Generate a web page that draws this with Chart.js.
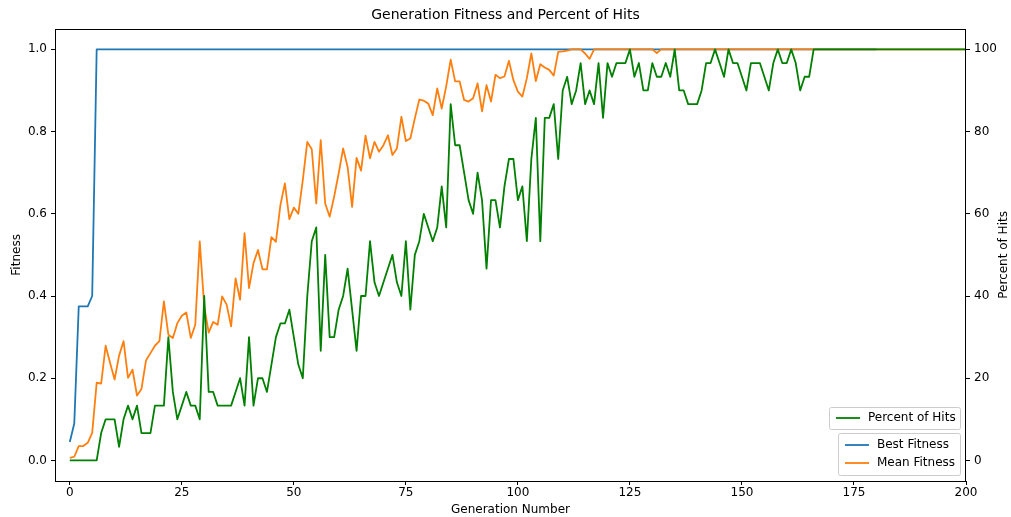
<!DOCTYPE html>
<html>
<head>
<meta charset="utf-8">
<script src="https://cdn.jsdelivr.net/npm/chart.js@4.4.1/dist/chart.umd.min.js"></script>
<style>
  html, body { margin: 0; padding: 0; background: #ffffff; }
  #wrap { width: 1011px; height: 517px; position: relative; }
</style>
</head>
<body>
<div id="wrap"><canvas id="c" width="1011" height="517"></canvas></div>
<script>
// Generation numbers (x values)
const generations = [
  0,1,2,3,4,5,6,7,8,9,10,11,12,13,14,15,16,17,18,19,
  20,21,22,23,24,25,26,27,28,29,30,31,32,33,34,35,36,37,38,39,
  40,41,42,43,44,45,46,47,48,49,50,51,52,53,54,55,56,57,58,59,
  60,61,62,63,64,65,66,67,68,69,70,71,72,73,74,75,76,77,78,79,
  80,81,82,83,84,85,86,87,88,89,90,91,92,93,94,95,96,97,98,99,
  100,101,102,103,104,105,106,107,108,109,110,111,112,113,114,115,116,117,118,119,
  120,121,122,123,124,125,126,127,128,129,130,131,132,133,134,135,136,137,138,139,
  140,141,142,143,144,145,146,147,148,149,150,151,152,153,154,155,156,157,158,159,
  160,161,162,163,164,165,166,167,168,169,170,171,172,173,174,175,176,177,178,179,
  180,181,182,183,184,185,186,187,188,189,190,191,192,193,194,195,196,197,198,199,
  200
];

// Best fitness per generation
const bestFitness = [
  0.045,0.09,0.375,0.375,0.375,0.40,1,1,1,1,
  1,1,1,1,1,1,1,1,1,1, 1,1,1,1,1,1,1,1,1,1,
  1,1,1,1,1,1,1,1,1,1, 1,1,1,1,1,1,1,1,1,1,
  1,1,1,1,1,1,1,1,1,1, 1,1,1,1,1,1,1,1,1,1,
  1,1,1,1,1,1,1,1,1,1, 1,1,1,1,1,1,1,1,1,1,
  1,1,1,1,1,1,1,1,1,1, 1,1,1,1,1,1,1,1,1,1,
  1,1,1,1,1,1,1,1,1,1, 1,1,1,1,1,1,1,1,1,1,
  1,1,1,1,1,1,1,1,1,1, 1,1,1,1,1,1,1,1,1,1,
  1,1,1,1,1,1,1,1,1,1, 1,1,1,1,1,1,1,1,1,1,
  1,1,1,1,1,1,1,1,1,1, 1
];

// Mean fitness of the population per generation
const meanFitness = [
  0.006,0.009,0.035,0.035,0.043,0.067,0.189,0.187,0.279,0.237,
  0.197,0.255,0.290,0.201,0.221,0.158,0.174,0.243,0.261,0.279,
  0.290,0.387,0.306,0.298,0.334,0.352,0.360,0.298,0.330,0.533,
  0.375,0.311,0.337,0.330,0.399,0.379,0.326,0.443,0.391,0.553,
  0.419,0.480,0.512,0.465,0.465,0.543,0.532,0.621,0.674,0.587,
  0.615,0.600,0.682,0.775,0.757,0.625,0.779,0.625,0.593,0.642,
  0.698,0.759,0.714,0.617,0.736,0.705,0.790,0.735,0.775,0.751,
  0.767,0.791,0.743,0.759,0.836,0.777,0.783,0.832,0.878,0.875,
  0.868,0.840,0.905,0.856,0.910,0.975,0.922,0.922,0.877,0.873,
  0.881,0.917,0.849,0.913,0.873,0.938,0.930,0.934,0.972,0.925,
  0.897,0.885,0.930,0.990,0.923,0.964,0.956,0.950,0.936,0.994,
  0.995,0.997,1,1,1,0.990,0.977,1,1,1,
  1,1,1,1,1,1,1,1,1,1,
  1,0.991,1,1,1,1,1,1,1,1,
  1,1,1,1,1,1,1,1,1,1, 1,1,1,1,1,1,1,1,1,1,
  1,1,1,1,1,1,1,1,1,1, 1,1,1,1,1,1,1,1,1,1,
  1,1,1,1,1,1,1,1,1,1, 1,1,1,1,1,1,1,1,1,1,
  1
];

// Percentage of fitness cases hit by the best individual
const percentHits = [
  0,0,0,0,0,0,0,6.67,10,10,
  10,3.33,10,13.33,10,13.33,6.67,6.67,6.67,13.33,
  13.33,13.33,30,16.67,10,13.33,16.67,13.33,13.33,10,
  40,16.67,16.67,13.33,13.33,13.33,13.33,16.67,20,13.33,
  30,13.33,20,20,16.67,23.33,30,33.33,33.33,36.67,
  30,23.33,20,40,53.33,56.67,26.67,50,30,30,
  36.67,40,46.67,36.67,26.67,40,40,53.33,43.33,40,
  43.33,46.67,50,43.33,40,53.33,36.67,50,53.33,60,
  56.67,53.33,56.67,66.67,56.67,86.67,76.67,76.67,70,63.33,
  60,70,63.33,46.67,63.33,63.33,56.67,66.67,73.33,73.33,
  63.33,66.67,53.33,73.33,83.33,53.33,83.33,83.33,86.67,73.33,
  90,93.33,86.67,90,96.67,86.67,90,86.67,96.67,83.33,
  96.67,93.33,96.67,96.67,96.67,100,93.33,96.67,90,90,
  96.67,93.33,93.33,96.67,93.33,100,90,90,86.67,86.67,
  86.67,90,96.67,96.67,100,96.67,93.33,100,96.67,96.67,
  93.33,90,96.67,96.67,96.67,93.33,90,96.67,100,96.67,
  96.67,100,96.67,90,93.33,93.33,100,100,100,100,
  100,100,100,100,100,100,100,100,100,100,
  100,100,100,100,100,100,100,100,100,100,
  100,100,100,100,100,100,100,100,100,100,
  100
];

// Tick labels
const xTickValues = [0, 25, 50, 75, 100, 125, 150, 175, 200];
const fitnessTickValues = [0.0, 0.2, 0.4, 0.6, 0.8, 1.0];
const hitsTickValues = [0, 20, 40, 60, 80, 100];

const FONT = 'DejaVu Sans';
const BLUE = '#1f77b4', ORANGE = '#ff7f0e', GREEN = '#008000';

Chart.defaults.font.family = FONT;
Chart.defaults.font.size = 12;
Chart.defaults.color = '#000000';

function fixedTicks(values) {
  return scale => { scale.ticks = values.map(v => ({ value: v })); };
}

// Full box around the plot area
const framePlugin = {
  id: 'frame',
  afterDatasetsDraw(chart) {
    const { ctx, chartArea: a } = chart;
    ctx.save();
    ctx.strokeStyle = '#000000';
    ctx.lineWidth = 1;
    ctx.strokeRect(Math.round(a.left) + 0.5, Math.round(a.top) + 0.5,
                   Math.round(a.right - a.left) - 1, Math.round(a.bottom - a.top));
    ctx.restore();
  }
};

// Right axis label reading bottom-to-top
const rightTitlePlugin = {
  id: 'rightTitle',
  afterDraw(chart) {
    const { ctx, chartArea: a } = chart;
    ctx.save();
    ctx.translate(1004, (a.top + a.bottom) / 2);
    ctx.rotate(-Math.PI / 2);
    ctx.font = '12px "' + FONT + '"';
    ctx.fillStyle = '#000000';
    ctx.textAlign = 'center';
    ctx.textBaseline = 'middle';
    ctx.fillText('Percent of Hits', 0, 0);
    ctx.restore();
  }
};

// Two legend boxes: one for each y axis
const legendPlugin = {
  id: 'twoLegends',
  afterDraw(chart) {
    const { ctx, chartArea: a } = chart;
    const R = a.right, B = a.bottom;
    function box(x0, y0, x1, y1) {
      ctx.beginPath();
      ctx.roundRect(x0 + 0.5, y0 + 0.5, x1 - x0, y1 - y0, 2);
      ctx.fillStyle = 'rgba(255,255,255,0.8)';
      ctx.fill();
      ctx.strokeStyle = '#cccccc';
      ctx.lineWidth = 1;
      ctx.stroke();
    }
    function entry(xs, xe, y, color, text, tx) {
      ctx.beginPath();
      ctx.moveTo(xs, y);
      ctx.lineTo(xe, y);
      ctx.strokeStyle = color;
      ctx.lineWidth = 1.8;
      ctx.stroke();
      ctx.fillStyle = '#000000';
      ctx.font = '12px "' + FONT + '"';
      ctx.textAlign = 'left';
      ctx.textBaseline = 'middle';
      ctx.fillText(text, tx, y);
    }
    ctx.save();
    box(R - 137, B - 74, R - 6, B - 52);
    entry(R - 130, R - 106, B - 63, GREEN, chart.data.datasets[0].label, R - 98);
    box(R - 128, B - 48, R - 6, B - 6);
    entry(R - 121, R - 97, B - 36, BLUE, chart.data.datasets[2].label, R - 89);
    entry(R - 121, R - 97, B - 18, ORANGE, chart.data.datasets[1].label, R - 89);
    ctx.restore();
  }
};

const lineStyle = {
  pointRadius: 0,
  borderWidth: 1.8,
  tension: 0,
  fill: false,
  borderJoinStyle: 'round'
};

new Chart(document.getElementById('c'), {
  type: 'line',
  data: {
    labels: generations,
    datasets: [
      Object.assign({ label: 'Percent of Hits', data: percentHits, yAxisID: 'yHits',
                      borderColor: GREEN, backgroundColor: GREEN }, lineStyle),
      Object.assign({ label: 'Mean Fitness', data: meanFitness, yAxisID: 'y',
                      borderColor: ORANGE, backgroundColor: ORANGE }, lineStyle),
      Object.assign({ label: 'Best Fitness', data: bestFitness, yAxisID: 'y',
                      borderColor: BLUE, backgroundColor: BLUE }, lineStyle)
    ]
  },
  options: {
    responsive: false,
    animation: false,
    events: [],
    layout: { padding: 0 },
    plugins: {
      legend: { display: false },
      tooltip: { enabled: false },
      title: {
        display: true,
        text: 'Generation Fitness and Percent of Hits',
        color: '#000000',
        font: { family: FONT, size: 14, weight: 'normal' },
        padding: { top: 7, bottom: 5 }
      }
    },
    scales: {
      x: {
        type: 'linear',
        min: -3.3,
        max: 200,
        afterBuildTicks: fixedTicks(xTickValues),
        afterFit: s => { s.height = 36; },
        ticks: { padding: 1, maxRotation: 0, autoSkip: false, callback: v => String(v),
                 font: { family: FONT, size: 12 } },
        grid: { drawOnChartArea: false, drawTicks: true, tickLength: 4, color: '#000000', lineWidth: 1 },
        border: { display: false },
        title: { display: true, text: 'Generation Number', padding: { top: 0, bottom: 0 },
                 font: { family: FONT, size: 12 } }
      },
      y: {
        type: 'linear',
        position: 'left',
        min: -0.05,
        max: 1.05,
        afterBuildTicks: fixedTicks(fitnessTickValues),
        afterFit: s => { s.width = 55; },
        ticks: { padding: 4, autoSkip: false, callback: v => v.toFixed(1),
                 font: { family: FONT, size: 12 } },
        grid: { drawOnChartArea: false, drawTicks: true, tickLength: 4, color: '#000000', lineWidth: 1 },
        border: { display: false },
        title: { display: true, text: 'Fitness', padding: { top: 10, bottom: 0 },
                 font: { family: FONT, size: 12 } }
      },
      yHits: {
        type: 'linear',
        position: 'right',
        min: -5,
        max: 105,
        afterBuildTicks: fixedTicks(hitsTickValues),
        afterFit: s => { s.width = 45; },
        ticks: { padding: 4, autoSkip: false, callback: v => String(v),
                 font: { family: FONT, size: 12 } },
        grid: { drawOnChartArea: false, drawTicks: true, tickLength: 4, color: '#000000', lineWidth: 1 },
        border: { display: false }
      }
    }
  },
  plugins: [framePlugin, legendPlugin, rightTitlePlugin]
});
</script>
</body>
</html>
